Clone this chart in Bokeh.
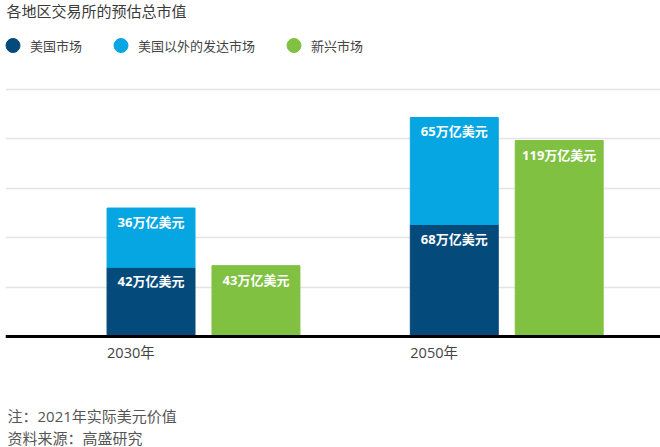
from bokeh.plotting import figure
from bokeh.models import (ColumnDataSource, Range1d, Grid, FixedTicker, Span, Label,
                          LabelSet, Legend, LegendItem)
from bokeh.core.properties import value
from bokeh.embed import file_html
from bokeh.resources import INLINE

# ---------------- data ----------------
title_text = "各地区交易所的预估总市值"
years = ["2030年", "2050年"]
series_names = ["美国市场", "美国以外的发达市场", "新兴市场"]
us_values = [42, 68]
developed_values = [36, 65]
emerging_values = [43, 119]
grid_ticks = [0, 30, 60, 90, 120, 150]
unit = "万亿美元"
notes = ["注：2021年实际美元价值", "资料来源：高盛研究"]

# ---------------- style ----------------
C_US = "#044a7b"
C_DEV = "#05a6e1"
C_EM = "#80c142"
CJK = "'Noto Sans CJK SC'"
MIX = "'Open Sans', 'Noto Sans CJK SC'"
OFFSET = 0.173
BAR_W = 0.29

idx = list(range(len(years)))
x_stack = [i - OFFSET for i in idx]
x_em = [i + OFFSET for i in idx]

src = ColumnDataSource(dict(
    x_stack=x_stack,
    x_em=x_em,
    us=us_values,
    dev=developed_values,
    em=emerging_values,
    top_dev=[u + d for u, d in zip(us_values, developed_values)],
    x_year=[x - BAR_W / 2 for x in x_stack],
    zero=[0] * len(years),
    year=years,
    us_lbl=[f"{v}{unit}" for v in us_values],
    dev_lbl=[f"{v}{unit}" for v in developed_values],
    em_lbl=[f"{v}{unit}" for v in emerging_values],
))

p = figure(width=660, height=447,
           x_range=Range1d(-0.6529, 1.507), y_range=Range1d(-67.41, 204.05),
           x_axis_type=None, y_axis_type=None, toolbar_location=None,
           output_backend="svg", title=None,
           min_border_left=5, min_border_right=0, min_border_top=0, min_border_bottom=0)
p.outline_line_color = None
p.background_fill_color = "white"
p.border_fill_color = "white"

grid = Grid(dimension=1, ticker=FixedTicker(ticks=grid_ticks),
            grid_line_color="#e4e4e4", grid_line_width=1.5)
p.add_layout(grid)

p.vbar(x="x_stack", bottom=0, top="us", width=BAR_W, color=C_US, source=src)
p.vbar(x="x_stack", bottom="us", top="top_dev", width=BAR_W, color=C_DEV, source=src)
p.vbar(x="x_em", bottom=0, top="em", width=BAR_W, color=C_EM, source=src)

p.add_layout(Span(location=0, dimension="width", line_color="black", line_width=3))

common = dict(source=src, text_align="center", text_baseline="top", y_offset=-5,
              text_color="white", text_font_style="bold", text_font_size="13px",
              text_font=value(MIX))
p.add_layout(LabelSet(x="x_stack", y="us", text="us_lbl", **common))
p.add_layout(LabelSet(x="x_stack", y="top_dev", text="dev_lbl", **common))
p.add_layout(LabelSet(x="x_em", y="em", text="em_lbl", **common))

p.add_layout(LabelSet(x="x_year", y="zero", text="year", source=src, text_align="left",
                      text_baseline="middle", y_offset=-16, text_color="#444444",
                      text_font_size="14.5px", text_font=value(MIX)))

# legend (marker-only renderers, no visible data points)
nan = float("nan")
m_us = p.scatter(x=[nan], y=[nan], marker="circle", size=15, color=C_US)
m_dev = p.scatter(x=[nan], y=[nan], marker="circle", size=15, color=C_DEV)
m_em = p.scatter(x=[nan], y=[nan], marker="circle", size=15, color=C_EM)
legend = Legend(items=[LegendItem(label=series_names[0], renderers=[m_us], index=0),
                       LegendItem(label=series_names[1], renderers=[m_dev], index=0),
                       LegendItem(label=series_names[2], renderers=[m_em], index=0)],
                orientation="horizontal", location=(-10, 383), margin=0, padding=0,
                glyph_width=35, glyph_height=38, label_height=38, label_standoff=0,
                spacing=21, border_line_color=None, background_fill_alpha=0,
                label_text_font=CJK, label_text_font_size="13px", label_text_color="#444444")
p.add_layout(legend)

p.add_layout(Label(x=1, y=437, x_units="screen", y_units="screen", text=title_text,
                   text_font=CJK, text_font_size="15px", text_color="#3a3a3a",
                   text_baseline="middle"))
p.add_layout(Label(x=2, y=32, x_units="screen", y_units="screen", text=notes[0],
                   text_font=MIX, text_font_size="15px", text_color="#555555",
                   text_baseline="middle"))
p.add_layout(Label(x=2, y=10, x_units="screen", y_units="screen", text=notes[1],
                   text_font=CJK, text_font_size="15px", text_color="#555555",
                   text_baseline="middle"))

open("out.html", "w").write(file_html(p, INLINE))
